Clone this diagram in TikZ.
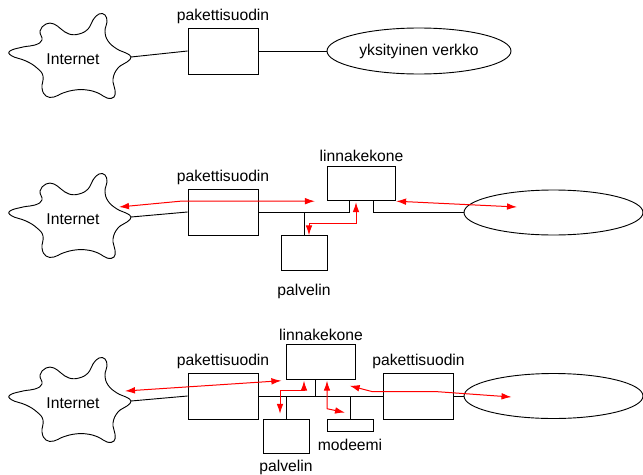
\documentclass[tikz,border=0pt]{standalone}
\usepackage{fontspec}
\setmainfont{Liberation Sans}
\usepackage{tikz}
\usetikzlibrary{positioning, calc}
\usetikzlibrary{shapes.geometric, arrows.meta}
\tikzstyle{filterbox} = [rectangle, draw=black, minimum width=42pt, minimum height=27.6pt]
\tikzstyle{hostbox} = [rectangle, draw=black, minimum width=41pt, minimum height=20.7pt]
\tikzstyle{serverbox} = [rectangle, draw=black, minimum width=27.6pt, minimum height=20.7pt]
\tikzstyle{modembox} = [rectangle, draw=black, minimum width=27.6pt, minimum height=7.2pt]
\tikzstyle{lan} = [ellipse, draw=black, inner sep=0pt, minimum width=107.4pt, minimum height=27pt]
\tikzstyle{flow} = [red, line width=0.6pt, >={Latex[length=6pt,width=4pt]}, <->]

% blob round the Internet label, #1 = name of the label node
\newcommand{\netcloud}[1]{%
  \draw[shift={(#1)}] plot[smooth cycle, tension=0.75] coordinates {
    (-63,-8) (-50,-12) (-38,-14) (-31,-19) (-33,-28) (-27,-35) (-19,-35)
    (-12,-30) (-4,-25) (6,-25) (15,-30) (20,-39) (26,-45) (32,-44) (34,-37)
    (32,-28) (35,-18) (44,-10) (53,-6) (58,-2) (54,3) (45,9) (40,20) (42,31)
    (41,38) (34,39) (25,34) (14,31) (2,31) (-10,34) (-19,38) (-27,37)
    (-31,29) (-30,17) (-36,9) (-47,2) (-61,-3)};
  \coordinate (#1-tip) at ($(#1)+(58,-2)$);
}

\begin{document}
\begin{tikzpicture}[x=0.6pt, y=-0.6pt, line width=0.55pt,
    font=\fontsize{9.4}{11}\selectfont,
    every label/.style={inner sep=0pt}, label distance=2pt]
  \useasboundingbox (0,0) rectangle (643,474);

  % packet filter only
  \node(inet1) at (73,59) {Internet};
  \netcloud{inet1}
  \node(pf1)[filterbox, label=above:pakettisuodin] at (223,51) {};
  \node(lan1)[lan, minimum width=110.4pt, minimum height=27.6pt] at (419,51) {yksityinen verkko};
  \draw (inet1-tip) -- (pf1.west);
  \draw (pf1.east) -- (lan1.west);

  % filter + bastion host
  \node(inet2) at (73,219) {Internet};
  \netcloud{inet2}
  \node(pf2)[filterbox, label=above:pakettisuodin] at (223,212) {};
  \node(bh2)[hostbox, label=above:linnakekone] at (361.5,183.5) {};
  \node(srv2)[serverbox, label={[label distance=7.8pt]below:palvelin}] at (304,253) {};
  \node(lan2)[lan] at (553.5,212.5) {};
  \draw (inet2-tip) -- (pf2.west);
  \draw (pf2.east) -| ($(bh2.south)+(-12,0)$);
  \draw ($(bh2.south)+(11.5,0)$) |- (lan2.west);
  \draw (srv2.north) -- (srv2.north |- pf2.east);
  \draw[flow] ($(inet2)+(46,-12)$) -- ($(pf2.west)+(-5,-11)$) -- ($(bh2.south west)+(-12,0)$);
  \draw[flow] ($(srv2.north)+(5,0)$) -- ++(0,-12) -| ($(bh2.south)+(-5.5,1)$);
  \draw[flow] (bh2.south east) -- ($(lan2)+(-36.5,-5.5)$);

  % two filters, bastion host and modem
  \node(inet3) at (73,403) {Internet};
  \netcloud{inet3}
  \node(pf3)[filterbox, label=above:pakettisuodin] at (223,396) {};
  \node(bh3)[hostbox, label=above:linnakekone] at (321,362) {};
  \node(srv3)[serverbox, label={[label distance=3pt]below:palvelin}] at (286,436.5) {};
  \node(mdm)[modembox, label={[label distance=4.2pt]below:modeemi}] at (350,425) {};
  \node(pf4)[filterbox, label=above:pakettisuodin] at (418.5,396) {};
  \node(lan3)[lan] at (553.5,396) {};
  \coordinate (bh3-port) at ($(bh3.south)+(-6,0)$);
  \draw (inet3-tip) -- (pf3.west);
  \draw (pf3.east) -- (pf4.west);
  \draw (pf4.east) -- (lan3.west);
  \draw (bh3-port) -- (bh3-port |- pf3.east);
  \draw (srv3.north) -- (srv3.north |- pf3.east);
  \draw (mdm.north) -- (mdm.north |- pf3.east);
  \draw[flow] ($(inet3)+(52,-12)$) -- ($(bh3.south west)+(-5,1)$);
  \draw[flow] ($(srv3.north)+(-6,-5)$) -- ++(0,-23) -| ($(bh3.south)+(-17,1)$);
  \draw[flow] ($(bh3.south)+(6,1)$) -- ++(0,28) -- ($(mdm.north)+(-5,-6)$);
  \draw[flow] ($(bh3.south east)+(-6,6)$) -- ++(23,6) -- ++(65,0) -- ($(lan3)+(-42,1)$);
\end{tikzpicture}
\end{document}
